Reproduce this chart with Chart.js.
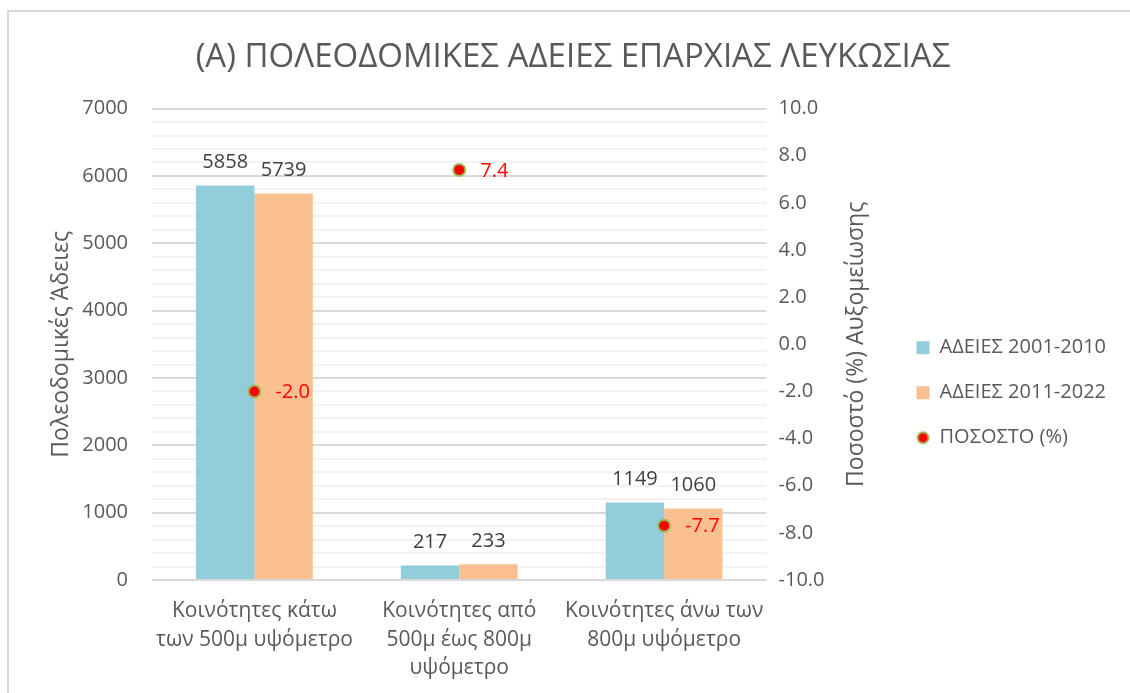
<!DOCTYPE html>
<html lang="el">
<head>
    <meta charset="UTF-8">
    <title>Πολεοδομικές Άδειες Επαρχίας Λευκωσίας</title>
    <script src="https://cdn.jsdelivr.net/npm/chart.js"></script>
    <style>
        html, body { margin: 0; padding: 0; background: #fff; overflow: hidden; }
        #wrap { position: relative; width: 1130px; height: 693px; }
        #frame {
            position: absolute; left: 7px; top: 10px; width: 1140px; height: 700px;
            border: 2px solid #d9d9d9; box-sizing: border-box; pointer-events: none;
        }
    </style>
</head>
<body>
<div id="wrap">
    <canvas id="chart" width="1130" height="693"></canvas>
    <div id="frame"></div>
</div>

<script>
    const categories = [
        ['Κοινότητες κάτω', 'των 500μ υψόμετρο'],
        ['Κοινότητες από', '500μ έως 800μ', 'υψόμετρο'],
        ['Κοινότητες άνω των', '800μ υψόμετρο']
    ];
    const permits2001 = [5858, 217, 1149];
    const permits2011 = [5739, 233, 1060];
    const percentChange = [-2.0, 7.4, -7.7];

    const FONT = "'Open Sans', 'Noto Sans', sans-serif";
    const GREY = '#595959';
    const RIGHT_TITLE = 'Ποσοστό (%) Αυξομείωσης';

    // small marker image for the legend entry of the percentage series
    const dot = document.createElement('canvas');
    dot.width = 16; dot.height = 16;
    (function () {
        const c = dot.getContext('2d');
        c.beginPath();
        c.arc(8, 8, 5.5, 0, Math.PI * 2);
        c.fillStyle = '#ff0000';
        c.fill();
        c.lineWidth = 2;
        c.strokeStyle = '#9bbb59';
        c.stroke();
    })();

    // value labels: above the bars, right of the points
    // plus the right axis title, which reads bottom-to-top like the left one
    const valueLabels = {
        id: 'valueLabels',
        afterDatasetsDraw(chart) {
            const ctx = chart.ctx;
            ctx.save();
            ctx.font = '20px ' + FONT;
            chart.data.datasets.forEach((ds, i) => {
                const meta = chart.getDatasetMeta(i);
                meta.data.forEach((el, j) => {
                    const v = ds.data[j];
                    ctx.textBaseline = 'middle';
                    if (ds.type === 'line') {
                        ctx.fillStyle = '#ff0000';
                        ctx.textAlign = 'left';
                        ctx.fillText(v.toFixed(1), el.x + 21, el.y + 1);
                    } else {
                        ctx.fillStyle = '#404040';
                        ctx.textAlign = 'center';
                        ctx.fillText(String(v), el.x, el.y - 23);
                    }
                });
            });

            const s = chart.scales.y1;
            const area = chart.chartArea;
            ctx.translate(s.left + 90, (area.top + area.bottom) / 2);
            ctx.rotate(-Math.PI / 2);
            ctx.font = '23px ' + FONT;
            ctx.fillStyle = GREY;
            ctx.textAlign = 'center';
            ctx.textBaseline = 'middle';
            ctx.fillText(RIGHT_TITLE, 0, 0);
            ctx.restore();
        }
    };

    new Chart(document.getElementById('chart'), {
        data: {
            labels: categories,
            datasets: [
                {
                    type: 'line',
                    label: 'ΠΟΣΟΣΤΟ (%)',
                    data: percentChange,
                    yAxisID: 'y1',
                    showLine: false,
                    pointRadius: 6,
                    pointHoverRadius: 6,
                    pointBackgroundColor: '#ff0000',
                    pointBorderColor: '#9bbb59',
                    pointBorderWidth: 2,
                    order: 0
                },
                {
                    type: 'bar',
                    label: 'ΑΔΕΙΕΣ 2001-2010',
                    data: permits2001,
                    backgroundColor: '#92cddc',
                    yAxisID: 'y',
                    categoryPercentage: 0.57,
                    barPercentage: 1.0,
                    order: 1
                },
                {
                    type: 'bar',
                    label: 'ΑΔΕΙΕΣ 2011-2022',
                    data: permits2011,
                    backgroundColor: '#fac090',
                    yAxisID: 'y',
                    categoryPercentage: 0.57,
                    barPercentage: 1.0,
                    order: 1
                }
            ]
        },
        options: {
            responsive: false,
            animation: false,
            layout: { padding: { left: 30, right: 14, top: 0, bottom: 0 } },
            plugins: {
                title: {
                    display: true,
                    text: '(Α) ΠΟΛΕΟΔΟΜΙΚΕΣ ΑΔΕΙΕΣ ΕΠΑΡΧΙΑΣ ΛΕΥΚΩΣΙΑΣ',
                    color: GREY,
                    font: { family: FONT, size: 33, weight: 'normal' },
                    padding: { top: 38, bottom: 31 }
                },
                legend: {
                    position: 'right',
                    maxWidth: 240,
                    // empty title only pushes the entries down to where they sit in the original
                    title: {
                        display: true,
                        text: '',
                        font: { family: FONT, size: 12 },
                        padding: { top: 0, bottom: 78 }
                    },
                    labels: {
                        color: GREY,
                        font: { family: FONT, size: 20 },
                        usePointStyle: true,
                        boxWidth: 13,
                        boxHeight: 13,
                        padding: 25,
                        generateLabels(chart) {
                            const ds = chart.data.datasets;
                            return [1, 2, 0].map(i => ({
                                text: ds[i].label,
                                fillStyle: ds[i].backgroundColor || '#ff0000',
                                strokeStyle: 'rgba(0,0,0,0)',
                                lineWidth: 0,
                                fontColor: GREY,
                                pointStyle: ds[i].type === 'line' ? dot : 'rect',
                                datasetIndex: i
                            }));
                        }
                    }
                },
                tooltip: { enabled: false }
            },
            scales: {
                x: {
                    grid: { display: false },
                    border: { display: false },
                    ticks: {
                        color: GREY,
                        font: { family: FONT, size: 21, lineHeight: 1.36 },
                        padding: 9,
                        maxRotation: 0
                    },
                    afterFit(scale) { scale.height = 113; }
                },
                y: {
                    position: 'left',
                    min: 0,
                    max: 7000,
                    border: { display: false },
                    grid: {
                        drawTicks: false,
                        lineWidth: 2,
                        color: c => (c.tick && c.tick.value % 1000 === 0) ? '#d9d9d9' : '#f2f2f2'
                    },
                    ticks: {
                        stepSize: 200,
                        autoSkip: false,
                        color: GREY,
                        font: { family: FONT, size: 20 },
                        padding: 24,
                        callback: v => (v % 1000 === 0 ? String(v) : '')
                    },
                    title: {
                        display: true,
                        text: 'Πολεοδομικές Άδειες',
                        color: GREY,
                        font: { family: FONT, size: 23 },
                        padding: { top: 18, bottom: 0 }
                    },
                    afterFit(scale) { scale.width = 122; }
                },
                y1: {
                    position: 'right',
                    min: -10,
                    max: 10,
                    border: { display: false },
                    grid: { display: false, drawTicks: false },
                    ticks: {
                        stepSize: 2,
                        color: GREY,
                        font: { family: FONT, size: 20 },
                        padding: 12,
                        callback: v => v.toFixed(1)
                    },
                    afterFit(scale) { scale.width = 125; }
                }
            }
        },
        plugins: [valueLabels]
    });
</script>
</body>
</html>
